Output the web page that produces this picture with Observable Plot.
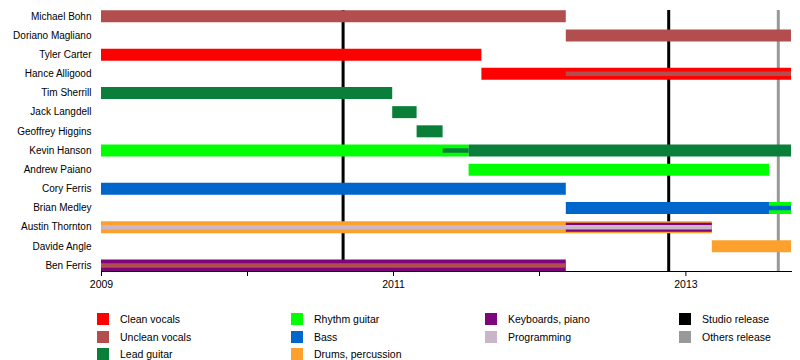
<!DOCTYPE html>
<html><head><meta charset="utf-8">
<script src="https://cdn.jsdelivr.net/npm/d3@7"></script>
<script src="https://cdn.jsdelivr.net/npm/@observablehq/plot@0.6"></script>
<style>
body{margin:0;background:#fff;font-family:"Liberation Sans",Arial,sans-serif;}
#chart{position:relative;width:800px;height:360px;overflow:hidden;}
#chart svg{position:absolute;left:0;top:0;}
.leg{position:absolute;font-size:10.5px;color:#000;display:flex;align-items:center;height:12px;white-space:nowrap;}
.sw{width:12px;height:12px;margin-right:11px;flex:none;}
</style></head><body><div id="chart"></div>
<script>
const members = ["Michael Bohn","Doriano Magliano","Tyler Carter","Hance Alligood","Tim Sherrill","Jack Langdell","Geoffrey Higgins","Kevin Hanson","Andrew Paiano","Cory Ferris","Brian Medley","Austin Thornton","Davide Angle","Ben Ferris"];
const roleNames = ["Clean vocals","Unclean vocals","Lead guitar","Rhythm guitar","Bass","Drums, percussion","Keyboards, piano","Programming"];
const roleColors = ["#ff0000","#b24e4e","#0a7f3a","#00ff00","#0066cc","#fca02e","#7d067d","#c9b7c9"];
const releaseNames = ["Studio release","Others release"];
const releaseColors = ["#000000","#999999"];
const studioReleases = ["2010-08-28","2012-11-19"];
const otherReleases = ["2013-08-20"];
const timelineStart = "2009-01-01";
const timelineEnd = "2013-09-22";
const axisYears = [2009,2010,2011,2012,2013];
const labeledYears = [2009,2011,2013];

// [member, role, from, to] — full-height bars
const fullBars = [
 ["Michael Bohn","Unclean vocals","2009-01-01","2012-03-08"],
 ["Doriano Magliano","Unclean vocals","2012-03-08","2013-09-22"],
 ["Tyler Carter","Clean vocals","2009-01-01","2011-08-10"],
 ["Hance Alligood","Clean vocals","2011-08-10","2013-09-22"],
 ["Tim Sherrill","Lead guitar","2009-01-01","2010-12-30"],
 ["Jack Langdell","Lead guitar","2010-12-30","2011-03-01"],
 ["Geoffrey Higgins","Lead guitar","2011-03-01","2011-05-05"],
 ["Kevin Hanson","Rhythm guitar","2009-01-01","2011-07-09"],
 ["Kevin Hanson","Lead guitar","2011-07-09","2013-09-22"],
 ["Andrew Paiano","Rhythm guitar","2011-07-09","2013-07-29"],
 ["Cory Ferris","Bass","2009-01-01","2012-03-08"],
 ["Brian Medley","Bass","2012-03-08","2013-07-29"],
 ["Brian Medley","Rhythm guitar","2013-07-29","2013-09-22"],
 ["Austin Thornton","Drums, percussion","2009-01-01","2013-03-08"],
 ["Davide Angle","Drums, percussion","2013-03-08","2013-09-22"],
 ["Ben Ferris","Keyboards, piano","2009-01-01","2012-03-08"]
];
// medium-width overlay bars
const midBars = [
 ["Austin Thornton","Keyboards, piano","2012-03-08","2013-03-08"]
];
// thin overlay lines
const thinBars = [
 ["Hance Alligood","Unclean vocals","2012-03-08","2013-09-22"],
 ["Kevin Hanson","Lead guitar","2011-05-05","2011-07-09"],
 ["Brian Medley","Bass","2013-07-29","2013-09-22"],
 ["Austin Thornton","Programming","2009-01-01","2013-03-08"],
 ["Ben Ferris","Unclean vocals","2009-01-01","2012-03-08"]
];

const parse = d3.utcParse("%Y-%m-%d");
const toRows = arr => arr.map(([member, role, from, to]) => ({member, role, from: parse(from), to: parse(to)}));
const yearDates = axisYears.map(y => new Date(Date.UTC(y, 0, 1)));

const plot = Plot.plot({
  width: 800, height: 300,
  marginLeft: 101, marginRight: 9, marginTop: 10, marginBottom: 29,
  style: {fontFamily: "'Liberation Sans', Arial, sans-serif", fontSize: "10px", background: "#fff", color: "#000"},
  x: {type: "utc", domain: [parse(timelineStart), parse(timelineEnd)], label: null},
  y: {type: "point", domain: members, range: [15.8, 265], padding: 0, round: false, label: null},
  color: {domain: [...roleNames, ...releaseNames], range: [...roleColors, ...releaseColors]},
  marks: [
    Plot.ruleX(studioReleases.map(parse), {stroke: releaseColors[0], strokeWidth: 3}),
    Plot.ruleX(otherReleases.map(parse), {stroke: releaseColors[1], strokeWidth: 3}),
    Plot.ruleY(toRows(fullBars), {y: "member", x1: "from", x2: "to", stroke: "role", strokeWidth: 12}),
    Plot.ruleY(toRows(midBars), {y: "member", x1: "from", x2: "to", stroke: "role", strokeWidth: 9}),
    Plot.ruleY(toRows(thinBars), {y: "member", x1: "from", x2: "to", stroke: "role", strokeWidth: 4.5}),
    Plot.frame({anchor: "bottom", stroke: "#000"}),
    Plot.axisX({ticks: yearDates, tickSize: 5, tickPadding: 4, fontSize: 10.5,
      tickFormat: d => labeledYears.includes(d.getUTCFullYear()) ? String(d.getUTCFullYear()) : ""}),
    Plot.axisY({tickSize: 0, tickPadding: 10, fontSize: 10})
  ]
});
const chart = document.getElementById("chart");
chart.appendChild(plot);

// legend
const colX = [97, 291, 485, 679];
const rowY = [313, 330.5, 348];
const legendItems = [
  ...roleNames.map((n, i) => ({name: n, color: roleColors[i], col: Math.floor(i / 3), row: i % 3})),
  ...releaseNames.map((n, i) => ({name: n, color: releaseColors[i], col: 3, row: i}))
];
for (const it of legendItems) {
  const d = document.createElement("div");
  d.className = "leg";
  d.style.left = colX[it.col] + "px";
  d.style.top = rowY[it.row] + "px";
  const s = document.createElement("span");
  s.className = "sw";
  s.style.background = it.color;
  d.appendChild(s);
  d.appendChild(document.createTextNode(it.name));
  chart.appendChild(d);
}
</script></body></html>
